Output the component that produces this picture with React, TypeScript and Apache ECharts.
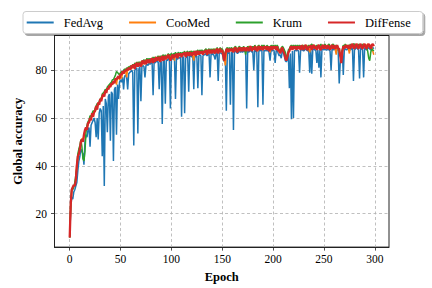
import React, { useEffect, useRef } from "react";
import * as echarts from "echarts";

const seriesNames = ["FedAvg", "CooMed", "Krum", "DifFense"];
const seriesColors = ["#1f77b4", "#ff7f0e", "#2ca02c", "#d62728"];
const xTicks = [0, 50, 100, 150, 200, 250, 300];
const yTicks = [20, 40, 60, 80];

const fedAvg = [
  10, 22, 27, 26, 29, 30, 31.5, 33, 38, 42,
  44, 47, 46, 45, 40.5, 50, 53, 52, 55, 56,
  48, 57, 58, 59, 60, 58, 52, 60, 51, 62,
  64, 63, 44, 65, 31.5, 68, 66, 54, 69, 70,
  50.5, 71, 70, 42, 72, 73, 53, 74, 68, 75,
  76, 75, 77, 72, 77.5, 78, 77, 72, 78.5, 79,
  79.5, 80, 79, 48.5, 80, 80.5, 81, 53.5, 80.5, 81.5,
  67, 81.5, 82, 81.5, 77, 82, 82.5, 82, 83, 82.5,
  83, 83.5, 69.5, 83.5, 83, 84, 83.5, 83.5, 72, 84,
  83.5, 57.5, 84, 84.5, 66, 84.5, 84, 85, 84.5, 64,
  84.5, 85, 84.5, 85, 68, 85.5, 84.5, 85.5, 85, 85.5,
  60.5, 85.5, 85.5, 62, 85, 85.5, 86, 71, 86, 86,
  85.5, 86, 72, 86.5, 85.5, 86, 72.5, 86, 86.5, 86,
  69.5, 86, 86.5, 86.5, 87, 86, 86.5, 87, 77, 87,
  86.5, 87, 86, 84.5, 87, 87.5, 75.5, 87, 87.5, 87,
  87, 85, 83.5, 86, 63, 87.5, 87, 87.5, 65.5, 87.5,
  87.5, 55, 87.5, 88, 87.5, 87, 87.5, 88, 87.5, 88,
  87.5, 88, 88, 87.5, 64, 88, 87.5, 88, 88.5, 87.5,
  88, 80, 88.5, 88, 87.5, 64.5, 88.5, 88, 88.5, 88,
  65.5, 88.5, 88, 88.5, 88, 88.5, 87.5, 84, 88.5, 88,
  88.5, 88, 83, 88, 88.5, 87, 86, 86.5, 85, 88,
  87.5, 86, 84, 83.5, 84.5, 86.5, 72.5, 87, 59.5, 88,
  60, 88, 88.5, 88, 88.5, 88, 79, 88, 89, 88.5,
  88, 88.5, 89, 88.5, 88, 88.5, 79, 89, 78.5, 88.5,
  89, 88.5, 88.5, 83, 88.5, 81, 88.5, 77, 88.5, 89,
  88.5, 89, 88.5, 88.5, 89, 88.5, 88, 80, 89, 88.5,
  89, 88.5, 88.5, 89, 88, 74.5, 83, 86.5, 88.5, 78,
  88.5, 89, 88.5, 89, 88.5, 89, 88.5, 89, 89.5, 75.5,
  88.5, 89, 89.5, 89, 88.5, 76.5, 89.5, 89, 88.5, 77,
  89.5, 89, 88.5, 89, 89.5, 89, 88.5, 89, 89.5, 89,
];

const cooMed = [
  10, 23, 29.5, 31, 31.5, 32, 35, 41, 43, 46,
  48, 49, 51.5, 51, 52, 55, 55.5, 56.5, 57, 59,
  59, 61, 61, 62, 63, 62.5, 64.5, 65, 65.5, 66.5,
  67, 68.5, 69, 69, 70.5, 70.5, 71.5, 72, 73, 72.5,
  74, 73.5, 75, 74.5, 75.5, 76, 74, 77, 77, 76,
  78.5, 76.5, 79.5, 78.5, 80, 79.5, 77, 81, 80, 81.5,
  81.5, 80.5, 82.5, 81, 83, 81.5, 82, 83.5, 82, 83,
  83.5, 82, 83.5, 84, 82.5, 84.5, 83.5, 84.5, 83, 84.5,
  83.5, 84.5, 85, 84, 85.5, 84, 85.5, 84, 86, 84.5,
  85.5, 85, 86, 85, 86, 84.5, 86.5, 85.5, 86.5, 85.5,
  86.5, 85, 86.5, 84, 87, 86, 86.5, 85.5, 87, 86,
  87, 86, 87.5, 86.5, 87, 87.5, 86, 87.5, 86.5, 88,
  87.5, 86, 84, 87.5, 87, 88, 86.5, 88, 87, 88,
  87, 88, 87, 88.5, 87.5, 87.5, 88.5, 87, 88.5, 87.5,
  88.5, 87.5, 89, 88, 87.5, 88.5, 88, 89, 87.5, 89,
  88.5, 87, 85, 82, 87.5, 88.5, 89, 88, 89, 88,
  88, 89, 89.5, 88.5, 88, 89, 89.5, 88, 89.5, 88.5,
  89.5, 88.5, 89.5, 89, 88, 89.5, 90, 88.5, 89.5, 89,
  90, 88.5, 89.5, 90, 89, 88, 89.5, 90, 89, 90,
  90, 89, 90, 88.5, 90, 89, 89.5, 87.5, 89.5, 90,
  89, 90, 89, 90, 89, 88.5, 87.5, 88, 89.5, 88.5,
  89, 88, 86.5, 85.5, 86, 87, 88.5, 89.5, 89, 90,
  89, 90, 89, 90, 89, 90, 89, 90, 89.5, 90.5,
  89.5, 89, 90, 90.5, 89.5, 89, 87.5, 90, 89.5, 90.5,
  89.5, 90.5, 89, 90, 90.5, 89.5, 88.5, 90.5, 89, 90,
  90.5, 89.5, 90.5, 89, 90, 90.5, 89.5, 89, 90, 90.5,
  89.5, 89, 86.5, 90, 89.5, 88, 86, 85, 88, 90,
  90.5, 89.5, 90.5, 89.5, 89, 87, 90, 90.5, 89.5, 91,
  90, 89.5, 90.5, 91, 90, 89.5, 90.5, 89.5, 90.5, 91,
  90, 89.5, 90.5, 91, 90, 89.5, 90.5, 89.5, 88, 86.5,
];

const krum = [
  10, 25, 30.5, 30, 31, 33, 36, 39, 45, 47,
  48.5, 51, 48, 43, 42, 46, 54, 57, 58.5, 59,
  61, 60.5, 62, 63, 62.5, 64, 65, 66, 65.5, 67,
  68, 68, 70, 70.5, 71, 72, 71.5, 73, 73.5, 74,
  74.5, 75, 76, 76, 77, 78, 79.5, 79, 78.5, 78,
  79, 79.5, 79, 80, 80.5, 80, 81, 80.5, 81.5, 81,
  82, 81, 82.5, 81.5, 83, 82, 83.5, 82, 83.5, 83,
  82.5, 84, 83, 84.5, 83.5, 84, 85, 83.5, 85, 84,
  85, 84, 85.5, 84.5, 85.5, 84.5, 85, 86, 84.5, 86,
  85, 86, 86.5, 85, 86.5, 85.5, 86, 87, 86, 86.5,
  87, 85.5, 87, 86.5, 87.5, 86, 87, 87.5, 86, 87.5,
  86.5, 87.5, 87, 88, 86.5, 87.5, 88, 86.5, 88, 87,
  88, 87, 88, 87, 88, 87.5, 88.5, 87, 88.5, 87.5,
  88.5, 87.5, 88, 88.5, 89, 87.5, 88.5, 89, 88, 89,
  88, 89, 88, 89, 88, 89.5, 88, 88.5, 89.5, 88.5,
  89, 87.5, 86, 87.5, 89, 89.5, 88.5, 89.5, 88.5, 89.5,
  89, 88.5, 89.5, 90, 89, 88.5, 89.5, 90, 89, 89.5,
  89, 90, 88.5, 86.5, 89, 90, 89, 90, 89.5, 89,
  90, 89, 90.5, 89.5, 89, 90, 90.5, 89.5, 89.5, 90.5,
  89.5, 90.5, 89.5, 89, 90.5, 89.5, 90, 89, 90.5, 89.5,
  90.5, 89.5, 90.5, 89.5, 90.5, 89.5, 88.5, 87.5, 89, 90,
  89.5, 88.5, 87.5, 86, 85.5, 88.5, 89, 90, 90.5, 89.5,
  90.5, 89.5, 90.5, 89.5, 90.5, 89.5, 90.5, 90, 89.5, 90.5,
  90, 89.5, 90.5, 90, 89.5, 90.5, 89.5, 90.5, 91, 90,
  90.5, 89.5, 90, 90.5, 89.5, 90.5, 90, 91, 89.5, 90.5,
  90, 91, 90, 89.5, 90.5, 91, 90, 89.5, 90.5, 91,
  90, 89.5, 90.5, 90, 89.5, 88, 86, 86.5, 88.5, 90.5,
  90, 91, 90, 89.5, 90.5, 90, 91, 90, 90.5, 91,
  91, 90, 90.5, 90, 91, 90, 90.5, 90, 91, 90,
  90.5, 90, 89.5, 88, 85, 84, 87.5, 89, 88.5, 88,
];

const difFense = [
  10, 24, 30, 31, 32, 31.5, 34, 40, 44, 45,
  47, 50, 51, 50, 53, 55, 56, 55, 58, 58,
  60, 59, 62, 60.5, 62.5, 63, 65, 63.5, 66.5, 65.5,
  68, 67, 69, 70, 69, 71.5, 70.5, 72.5, 72, 73.5,
  73, 74.5, 74, 75.5, 74.5, 76.5, 76, 77, 77.5, 76.5,
  78.5, 78, 79.5, 78.5, 80, 79.5, 80.5, 80, 81, 80.5,
  80.5, 82, 81, 82.5, 80.5, 82.5, 83, 81.5, 83, 82.5,
  81.5, 83.5, 84, 82.5, 84, 82.5, 84.5, 83, 84.5, 83,
  84.5, 85, 83, 85, 83.5, 85.5, 84, 85, 85.5, 83.5,
  85, 86, 84, 86, 84.5, 86, 85, 86.5, 85.5, 84,
  85, 86.5, 85, 86.5, 85.5, 87, 85, 87, 86, 87,
  85.5, 87, 86.5, 87.5, 85.5, 87, 87.5, 86, 87.5, 87,
  86, 87.5, 86.5, 88, 86, 87.5, 88, 86.5, 88, 87,
  88, 86.5, 88, 87.5, 88.5, 86.5, 88, 88.5, 87, 88.5,
  87, 88.5, 88, 87, 88.5, 89, 87, 88.5, 89, 87.5,
  88.5, 86, 84, 87, 88.5, 89, 87.5, 89, 88, 89,
  88.5, 87.5, 89, 89.5, 88, 87.5, 89, 89.5, 88, 89.5,
  88, 89.5, 89, 88, 89.5, 89, 88, 89.5, 90, 88,
  89.5, 88.5, 90, 89, 88, 89.5, 90, 88.5, 90, 89,
  88.5, 90, 89, 90, 88.5, 90, 88, 89, 90, 88.5,
  90, 89, 90, 88.5, 90, 88, 88.5, 87, 88.5, 89.5,
  88, 87, 85, 84, 85.5, 87.5, 88, 89.5, 90, 88.5,
  90, 89, 90, 88.5, 90, 89, 90, 88.5, 90.5, 89.5,
  88.5, 90, 90.5, 89, 88.5, 90, 89.5, 90.5, 88.5, 90,
  90.5, 89, 90, 88.5, 90, 90.5, 89, 88.5, 90, 90.5,
  89, 90.5, 89.5, 89, 90.5, 89.5, 88.5, 90, 90.5, 89,
  90.5, 89, 89.5, 90.5, 89, 89, 86, 83, 87.5, 90,
  89, 90.5, 89.5, 90.5, 89, 90.5, 89, 90.5, 91, 89.5,
  89, 90.5, 91, 89.5, 89, 90.5, 91, 89.5, 89, 90.5,
  91, 89.5, 89, 90.5, 91, 90, 89, 90.5, 91, 90,
];

const allSeries = [fedAvg, cooMed, krum, difFense];
const lineWidths = [1.5, 1.5, 1.5, 2.3];

const FONT = "Liberation Serif";

export default function App() {
  const ref = useRef<HTMLDivElement>(null);
  useEffect(() => {
    if (!ref.current) return;
    const chart = echarts.init(ref.current, undefined, { renderer: "svg" });
    const gridLine = { show: true, lineStyle: { color: "#b0b0b0", width: 0.8, type: [3, 2.5] } };
    const tickRich = { t: { fontFamily: FONT, fontSize: 11.5, color: "#000" } };
    const nameStyle = { fontFamily: FONT, fontSize: 12.5, fontWeight: "bold", color: "#000" };
    chart.setOption({
      animation: false,
      backgroundColor: "#ffffff",
      textStyle: { fontFamily: FONT },
      grid: {
        left: 54.5,
        right: 43,
        top: 35.5,
        bottom: 36,
        show: true,
        borderColor: "#222",
        borderWidth: 1,
        backgroundColor: "transparent",
      },
      legend: {
        data: seriesNames,
        left: 23,
        top: 11.5,
        icon: "rect",
        itemWidth: 27,
        itemHeight: 2,
        itemGap: 26,
        padding: [4, 12, 4, 3.7],
        backgroundColor: "#ffffff",
        borderColor: "#cccccc",
        borderWidth: 1,
        borderRadius: 3,
        shadowColor: "rgba(0,0,0,0.35)",
        shadowOffsetX: 2,
        shadowOffsetY: 2,
        shadowBlur: 0,
        textStyle: {
          fontFamily: FONT,
          fontSize: 12.5,
          color: "#000",
          padding: [0, 0, 0, 5],
          lineHeight: 14,
        },
      },
      xAxis: {
        type: "value",
        min: -14.95,
        max: 313.95,
        name: "Epoch",
        nameLocation: "middle",
        nameGap: 21,
        nameTextStyle: nameStyle,
        axisLine: { show: true, onZero: false, lineStyle: { color: "#222", width: 1 } },
        axisTick: { show: true, length: 3.5, customValues: xTicks, lineStyle: { color: "#222", width: 0.8 } },
        axisLabel: {
          customValues: xTicks,
          margin: 6,
          fontFamily: FONT,
          fontSize: 11.5,
          color: "#000",
          formatter: "{t|{value}}",
          rich: tickRich,
        },
        splitLine: gridLine,
      },
      yAxis: {
        type: "value",
        min: 5.975,
        max: 94.525,
        name: "Global accuracy",
        nameLocation: "middle",
        nameGap: 26,
        nameRotate: 90,
        nameTextStyle: nameStyle,
        axisLine: { show: true, onZero: false, lineStyle: { color: "#222", width: 1 } },
        axisTick: { show: true, length: 3.5, customValues: yTicks, lineStyle: { color: "#222", width: 0.8 } },
        axisLabel: {
          customValues: yTicks,
          margin: 7.5,
          fontFamily: FONT,
          fontSize: 11.5,
          color: "#000",
          formatter: "{t|{value}}",
          rich: tickRich,
        },
        splitLine: gridLine,
      },
      series: allSeries.map((vals, k) => ({
        name: seriesNames[k],
        type: "line",
        data: vals.map((v, i) => [i, v]),
        showSymbol: false,
        symbol: "none",
        color: seriesColors[k],
        lineStyle: { color: seriesColors[k], width: lineWidths[k] },
        z: 2 + k,
      })),
    });
    return () => chart.dispose();
  }, []);
  return <div ref={ref} style={{ width: 432, height: 288, position: "absolute", left: 0, top: 0 }} />;
}
